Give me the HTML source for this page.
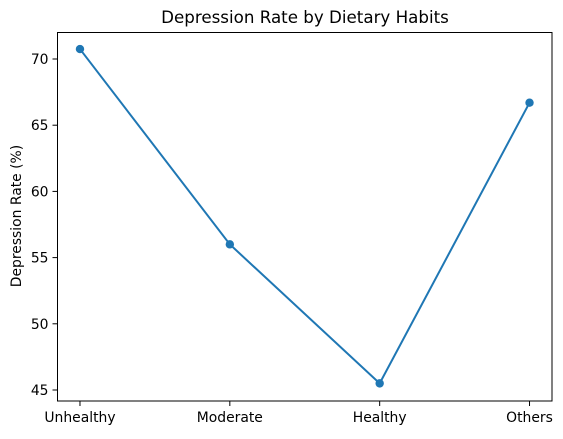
<!DOCTYPE html>
<html><head><meta charset="utf-8"><style>
body{margin:0;background:#fff;font-family:"DejaVu Sans","Liberation Sans",sans-serif}
</style></head><body>
<svg width="563" height="435" xmlns="http://www.w3.org/2000/svg" font-family="DejaVu Sans, Liberation Sans, sans-serif">
<text x="305" y="23" text-anchor="middle" font-size="16.7" fill="#000">Depression Rate by Dietary Habits</text>
<text transform="translate(21,216) rotate(-90)" text-anchor="middle" font-size="13.9" fill="#000">Depression Rate (%)</text>
<g id="ax"></g>
<rect x="57.5" y="32.5" width="494.5" height="368.5" fill="none" stroke="#000" stroke-width="1"/>
</svg>
<script>
const categories=["Unhealthy","Moderate","Healthy","Others"];
const values=[70.75,56.0,45.5,66.7];
const yTicks=[45,50,55,60,65,70];
const L=57.5,R=552,T=32.5,B=401;
const xs=i=>L+(i+0.15)/3.3*(R-L);
const ys=v=>59+(70-v)*(390-59)/25;
const g=document.getElementById('ax');const NS="http://www.w3.org/2000/svg";
function mk(t,a){const e=document.createElementNS(NS,t);for(const k in a)e.setAttribute(k,a[k]);g.appendChild(e);return e;}
yTicks.forEach(v=>{
 const l=mk('line',{x1:L-5,x2:L,y1:ys(v),y2:ys(v),stroke:'#000'});
 
 
 const t=mk('text',{x:L-9,y:ys(v)+5,'text-anchor':'end','font-size':13.9});t.textContent=v;
 
 
});
categories.forEach((c,i)=>{
 const l=mk('line',{x1:xs(i),x2:xs(i),y1:B,y2:B+5,stroke:'#000'});
 
 
 const t=mk('text',{x:xs(i),y:B+21,'text-anchor':'middle','font-size':13.9});t.textContent=c;
 
 
});
const p=mk('polyline',{points:values.map((v,i)=>xs(i)+','+ys(v)).join(' '),fill:'none',stroke:'#1f77b4','stroke-width':2});


values.forEach((v,i)=>{
 const c=mk('circle',{cx:xs(i),cy:ys(v),r:4.2,fill:'#1f77b4'});
 
 
});
</script>
</body></html>
